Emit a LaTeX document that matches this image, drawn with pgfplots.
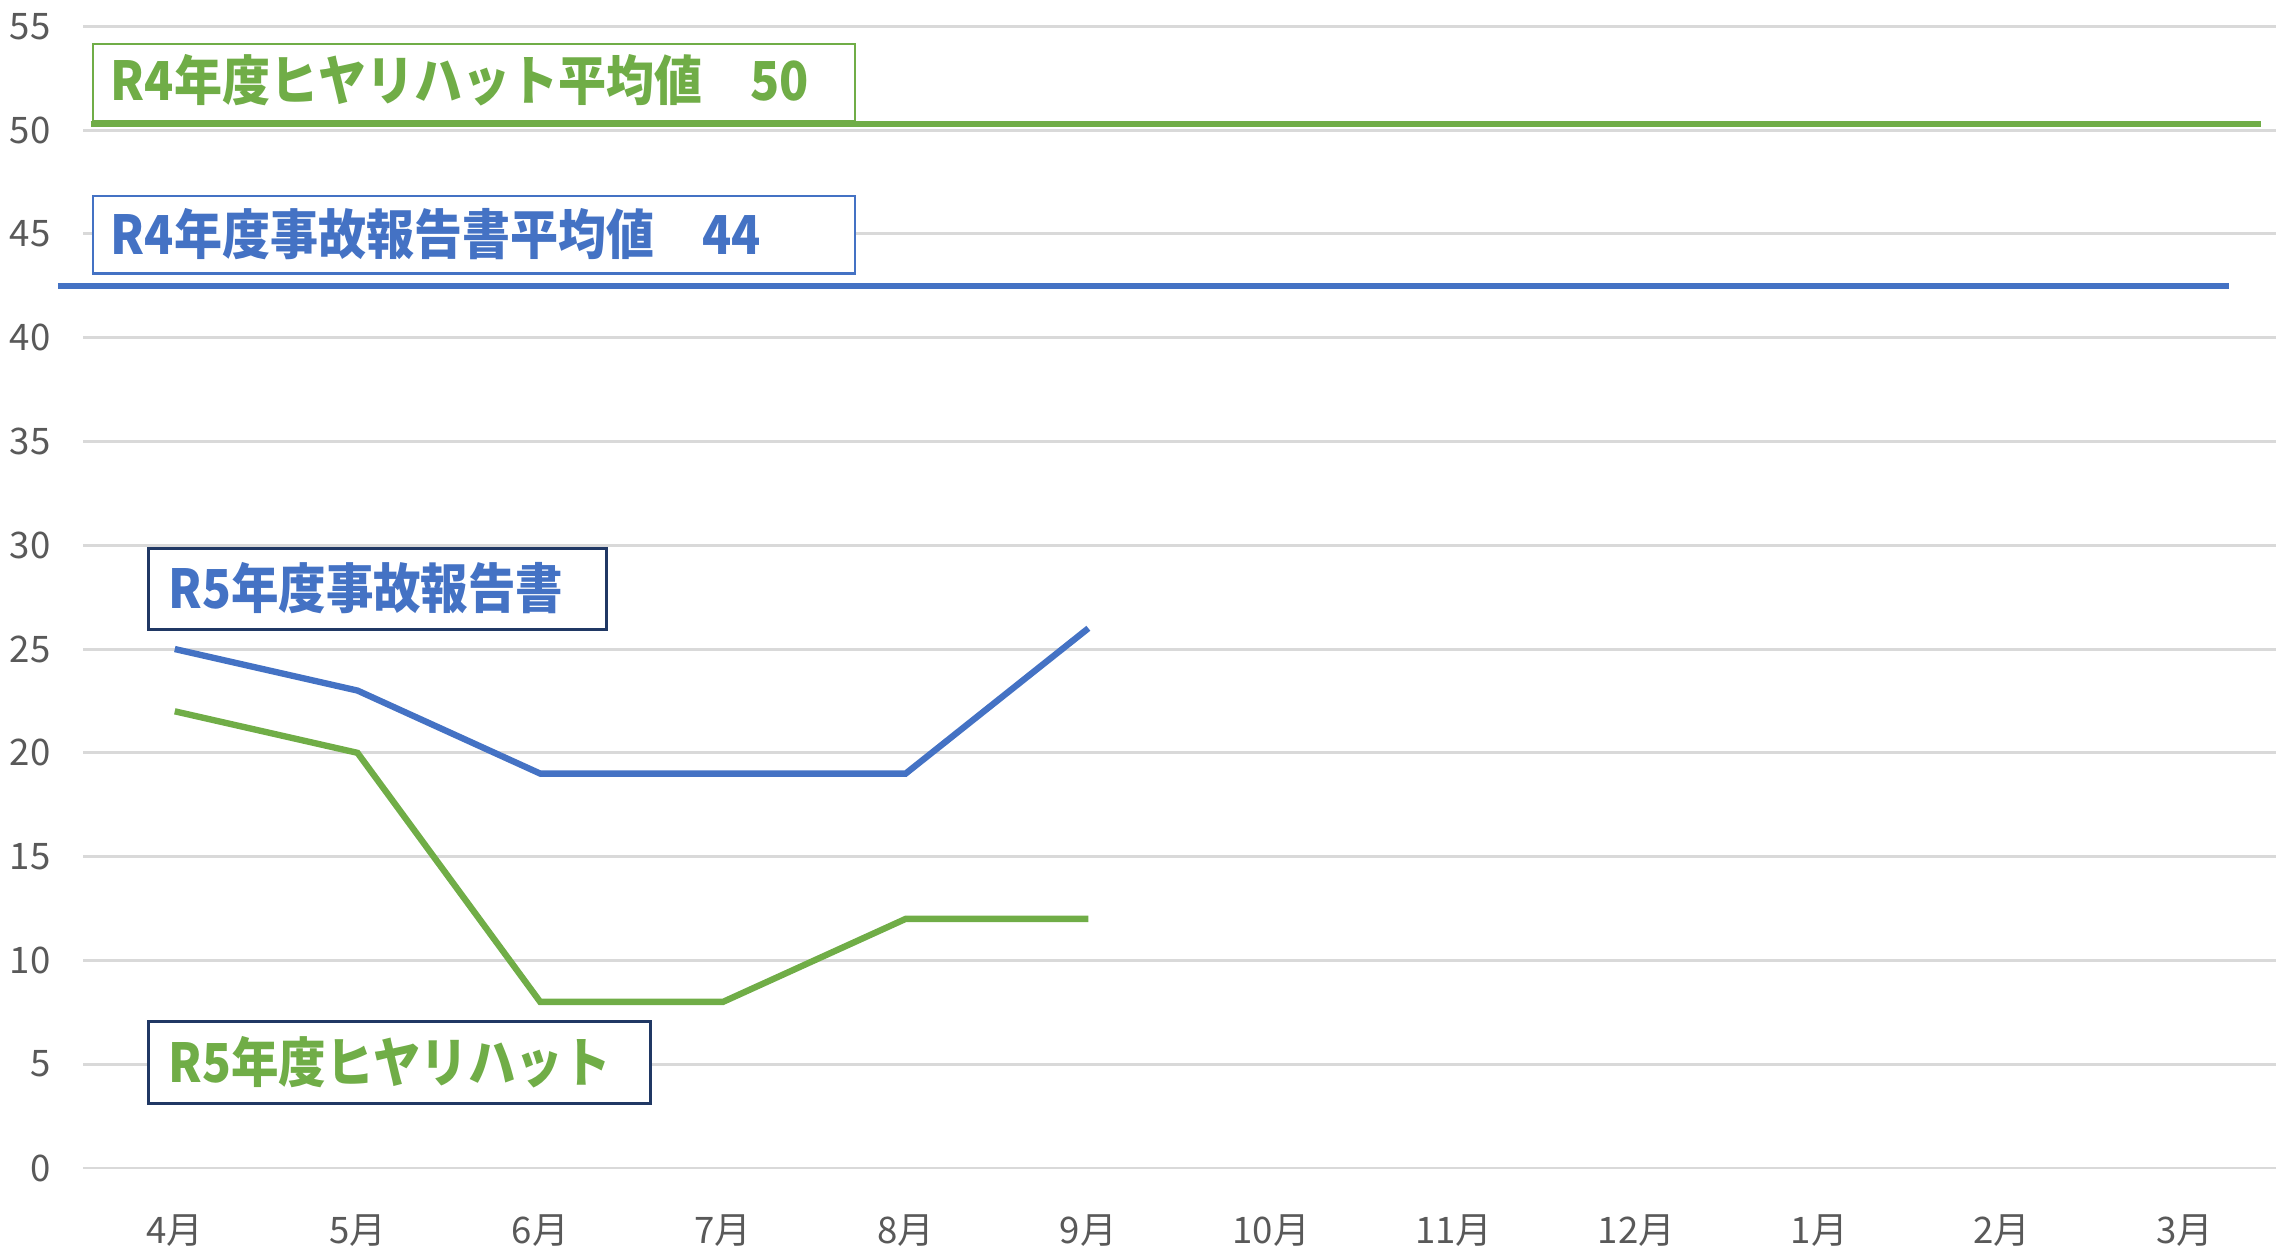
\documentclass[border=0pt]{standalone}
\usepackage{fontspec}
\setmainfont{Noto Sans CJK JP}
\usepackage{pgfplots}
\pgfplotsset{compat=1.18}
\definecolor{cblue}{HTML}{4472C4}
\definecolor{cgreen}{HTML}{70AD47}
\definecolor{cgrid}{HTML}{D9D9D9}
\definecolor{clab}{HTML}{595959}
\definecolor{cnavy}{HTML}{203864}
\begin{document}
\begin{tikzpicture}
\begin{axis}[
  scale only axis,
  width=449.4pt, height=234pt,
  xmin=-0.5, xmax=11.5, ymin=0, ymax=55,
  clip=false,
  xtick={0,...,11},
  xticklabels={4月,5月,6月,7月,8月,9月,10月,11月,12月,1月,2月,3月},
  ytick={0,5,...,55},
  ymajorgrids, grid style={cgrid, line width=0.6pt},
  axis line style={draw=none},
  major tick length=0pt,
  tick label style={font=\fontsize{7.5}{9}\selectfont, text=clab},
  yticklabel style={xshift=-3.2pt},
  xticklabel style={yshift=-6pt},
  /pgf/number format/assume math mode=true,
]
% bottom axis line
\addplot[cgrid, line width=0.6pt, forget plot] coordinates {(-0.5,0) (11.5,0)};
% R4 averages
\addplot[cgreen, line width=1.25pt] coordinates {(-0.46,50.3) (11.42,50.3)};
\addplot[cblue, line width=1.25pt] coordinates {(-0.64,42.5) (11.24,42.5)};
% R5 series
\addplot[cblue, line width=1.3pt] coordinates {(0,25) (1,23) (2,19) (3,19) (4,19) (5,26)};
\addplot[cgreen, line width=1.3pt] coordinates {(0,22) (1,20) (2,8) (3,8) (4,12) (5,12)};
% text boxes
\draw[cgreen, line width=0.5pt, fill=white] (axis cs:-0.448,50.42) rectangle (axis cs:3.723,54.15);
\node[anchor=west, text=cgreen, font=\fontsize{11}{13}\selectfont\bfseries, inner sep=0pt]
  at (axis cs:-0.355,52.4) {\scalebox{0.895}[1]{R4年度ヒヤリハット平均値　50}};
\draw[cblue, line width=0.5pt, fill=white] (axis cs:-0.448,43.10) rectangle (axis cs:3.723,46.83);
\node[anchor=west, text=cblue, font=\fontsize{11}{13}\selectfont\bfseries, inner sep=0pt]
  at (axis cs:-0.355,45.0) {\scalebox{0.895}[1]{R4年度事故報告書平均値　44}};
\draw[cnavy, line width=0.6pt, fill=white] (axis cs:-0.144,25.92) rectangle (axis cs:2.362,29.86);
\node[anchor=west, text=cblue, font=\fontsize{11}{13}\selectfont\bfseries, inner sep=0pt]
  at (axis cs:-0.04,27.95) {\scalebox{0.885}[1]{R5年度事故報告書}};
\draw[cnavy, line width=0.6pt, fill=white] (axis cs:-0.144,3.1) rectangle (axis cs:2.602,7.04);
\node[anchor=west, text=cgreen, font=\fontsize{11}{13}\selectfont\bfseries, inner sep=0pt]
  at (axis cs:-0.04,5.1) {\scalebox{0.885}[1]{R5年度ヒヤリハット}};
\end{axis}
\pgfresetboundingbox
\path ([shift={(-17.1pt,-16.2pt)}]current axis.south west) rectangle ([shift={(3.9pt,5.4pt)}]current axis.north east);
\end{tikzpicture}
\end{document}
